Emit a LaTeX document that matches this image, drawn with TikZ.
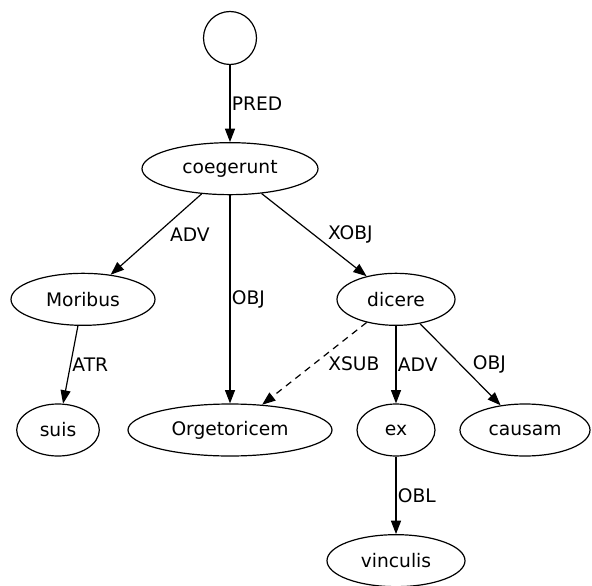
\documentclass[tikz,border=0pt]{standalone}
\usepackage{fontspec}
\setmainfont{DejaVu Sans}
\usetikzlibrary{shapes.geometric}
\usetikzlibrary{arrows.meta}

\begin{document}
\begin{tikzpicture}[node distance={98pt},
    every node/.style={font=\fontsize{14}{17}\selectfont},
    word/.style={draw, ellipse, minimum height=39pt, inner sep=0pt, line width=0.9pt},
    rel/.style={right, inner sep=1pt}]
    \useasboundingbox (0,0) rectangle (444pt,-438.75pt);
    \node[draw, circle, minimum size=39.75pt, line width=0.9pt] (root) at (172.5pt,-28.5pt) {};
    \node[word, minimum width=132pt] (coegerunt) [below of=root] {coegerunt};
    \node[word, minimum width=108pt] (moribus) [below of=coegerunt, xshift=-110.25pt] {Moribus};
    \node[word, minimum width=88.5pt] (dicere) [below of=coegerunt, xshift=124.5pt] {dicere};
    \node[word, minimum width=62pt] (suis) [below of=moribus, xshift=-18.75pt] {suis};
    \node[word, minimum width=153pt] (orgetoricem) [below of=moribus, xshift=110.25pt] {Orgetoricem};
    \node[word, minimum width=58.5pt] (ex) [below of=dicere] {ex};
    \node[word, minimum width=97.5pt] (causam) [below of=dicere, xshift=96.75pt] {causam};
    \node[word, minimum width=103.5pt] (vinculis) [below of=ex] {vinculis};
\begin{scope}[line width=0.9pt, -{Triangle[length=10pt,width=7.5pt]}]
    \foreach \a/\b/\l/\s in {root/coegerunt/PRED/0pt, coegerunt/moribus/ADV/9pt,
        coegerunt/orgetoricem/OBJ/0pt, coegerunt/dicere/XOBJ/9pt, moribus/suis/ATR/0pt,
        dicere/ex/ADV/0pt, dicere/causam/OBJ/8pt, ex/vinculis/OBL/0pt}
    \draw (\a) -- (\b) node[rel, midway, xshift=\s] {\l};
    \draw[dashed, dash pattern=on 5pt off 4pt] (dicere) -- (orgetoricem) node[rel, midway, xshift=9pt] {XSUB};
\end{scope}
\end{tikzpicture}
\end{document}
